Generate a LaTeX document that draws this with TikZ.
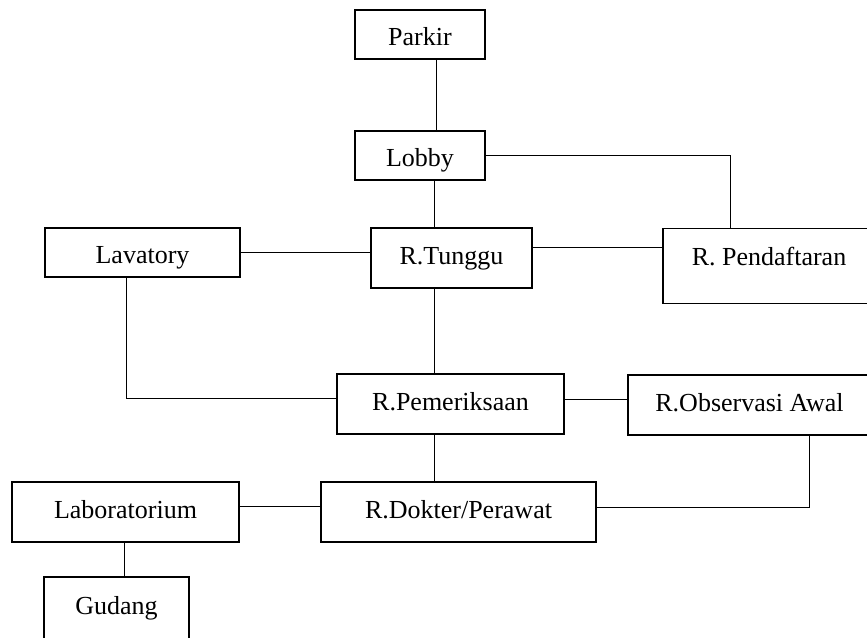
\documentclass[tikz,border=0pt]{standalone}
\usepackage{fontspec}
\setmainfont{Liberation Serif}
\begin{document}
\begin{tikzpicture}[x=1pt,y=-1pt,
  room/.style={draw, line width=1.2pt, rectangle, inner sep=0pt, text height=18pt, text depth=6pt,
    font=\fontsize{26}{30}\selectfont},
  lowtext/.style={text height=21pt, text depth=0pt},
  link/.style={line width=1pt}]
\useasboundingbox (0,0) rectangle (867,637);
% rooms
\node[room, lowtext, minimum width=130, minimum height=49] (parkir) at (420,34.5) {Parkir};
\node[room, lowtext, minimum width=130, minimum height=49] (lobby) at (420,155.5) {Lobby};
\node[room, lowtext, minimum width=195, minimum height=49] (lav) at (142.5,252.5) {Lavatory};
\node[room, minimum width=161, minimum height=60] (tunggu) at (451.5,258) {R.Tunggu};
\node[room, anchor=north, minimum width=212, text height=37pt, text depth=38pt] (daftar) at (769,228) {R. Pendaftaran};
\node[room, minimum width=227, minimum height=60] (periksa) at (450.5,404) {R.Pemeriksaan};
\node[room, minimum width=243, minimum height=60] (obs) at (749.5,405) {R.Observasi Awal};
\node[room, minimum width=227, minimum height=60] (lab) at (125.5,512) {Laboratorium};
\node[room, minimum width=275, minimum height=60] (dokter) at (458.5,512) {R.Dokter/Perawat};
\node[room, minimum width=145, minimum height=62] (gudang) at (116.5,608) {Gudang};
% helper coordinates
\coordinate (xa) at (436,0);
\coordinate (xb) at (434,0);
\coordinate (xc) at (730,0);
\coordinate (xd) at (126,0);
\coordinate (xe) at (809,0);
\coordinate (xf) at (124,0);
\coordinate (ya) at (0,247);
\coordinate (yb) at (0,398);
\coordinate (yc) at (0,399);
\coordinate (yd) at (0,506);
\coordinate (ye) at (0,507);
% connectors
\draw[link] (parkir.south -| xa) -- (lobby.north -| xa);
\draw[link] (lobby.south -| xb) -- (tunggu.north -| xb);
\draw[link] (lobby.east) -| (daftar.north -| xc);
\draw[link] (lav.east) -- (lav.east -| tunggu.west);
\draw[link] (tunggu.east |- ya) -- (daftar.west |- ya);
\draw[link] (tunggu.south -| xb) -- (periksa.north -| xb);
\draw[link] (lav.south -| xd) |- (periksa.west |- yb);
\draw[link] (periksa.east |- yc) -- (obs.west |- yc);
\draw[link] (periksa.south -| xb) -- (dokter.north -| xb);
\draw[link] (lab.east |- yd) -- (dokter.west |- yd);
\draw[link] (obs.south -| xe) |- (dokter.east |- ye);
\draw[link] (lab.south -| xf) -- (gudang.north -| xf);
\end{tikzpicture}
\end{document}
